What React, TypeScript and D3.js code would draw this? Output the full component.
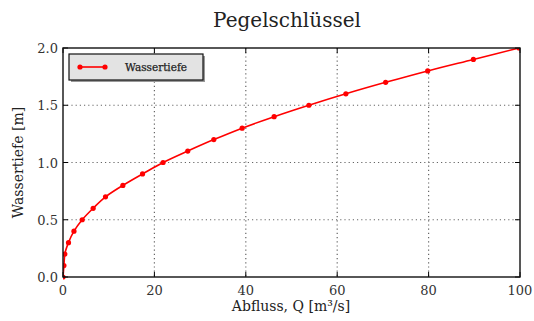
import * as d3 from "d3"
import React from "react"

// Pegelschlüssel: Abfluss Q [m³/s] gegen Wassertiefe [m]
const abfluss = [0, 0.2, 0.4, 1.2, 2.4, 4.2, 6.6, 9.3, 13.1, 17.4, 21.9, 27.3, 33.0, 39.2, 46.2, 53.8, 61.9, 70.6, 79.8, 89.8, 99.8]
const wassertiefe = [0, 0.1, 0.2, 0.3, 0.4, 0.5, 0.6, 0.7, 0.8, 0.9, 1.0, 1.1, 1.2, 1.3, 1.4, 1.5, 1.6, 1.7, 1.8, 1.9, 2.0]
const xTickValues = [0, 20, 40, 60, 80, 100]
const yTickValues = [0, 0.5, 1.0, 1.5, 2.0]
const title = "Pegelschlüssel"
const xLabel = "Abfluss, Q [m³/s]"
const yLabel = "Wassertiefe [m]"
const legendLabel = "Wassertiefe"

export default function App() {
  const W = 534
  const H = 321
  const left = 63
  const right = 520
  const top = 48
  const bottom = 277
  const font = "'DejaVu Serif', serif"

  const xScale = d3.scaleLinear().domain([0, 100]).range([left, right])
  const yScale = d3.scaleLinear().domain([0, 2]).range([bottom, top])
  const pts: [number, number][] = abfluss.map((q, i) => [q, wassertiefe[i]])
  const line = d3.line<[number, number]>()
    .curve(d3.curveMonotoneY)
    .x(d => xScale(d[0]))
    .y(d => yScale(d[1]))(pts)

  return (
    <svg width={W} height={H} style={{ position: "absolute", left: 0, top: 0 }}>
      <rect width={W} height={H} fill="#fff" />
      <text x={287} y={27} textAnchor="middle" fontFamily={font} fontSize={20} fill="#222">{title}</text>

      {/* grid */}
      {xTickValues.slice(1, -1).map(t => (
        <line key={"gx" + t} x1={xScale(t)} x2={xScale(t)} y1={top} y2={bottom} stroke="#666" strokeWidth={1.2} strokeDasharray="1.2,3" />
      ))}
      {yTickValues.slice(1, -1).map(t => (
        <line key={"gy" + t} x1={left} x2={right} y1={yScale(t)} y2={yScale(t)} stroke="#666" strokeWidth={1.2} strokeDasharray="1.2,3" />
      ))}

      {/* data */}
      <clipPath id="plot"><rect x={left} y={top} width={right - left} height={bottom - top + 3} /></clipPath>
      <g clipPath="url(#plot)">
        <path d={line || ""} fill="none" stroke="#ff0000" strokeWidth={1.6} />
        {pts.map((p, i) => (
          <circle key={i} cx={xScale(p[0])} cy={yScale(p[1])} r={2.6} fill="#ff0000" />
        ))}
      </g>

      {/* ticks */}
      {xTickValues.map(t => (
        <g key={"tx" + t}>
          <line x1={xScale(t)} x2={xScale(t)} y1={bottom} y2={bottom - 5} stroke="#000" />
          <line x1={xScale(t)} x2={xScale(t)} y1={top} y2={top + 5} stroke="#000" />
          <text x={xScale(t)} y={bottom + 18} textAnchor="middle" fontFamily={font} fontSize={13} fill="#333">{t}</text>
        </g>
      ))}
      {yTickValues.map(t => (
        <g key={"ty" + t}>
          <line x1={left} x2={left + 5} y1={yScale(t)} y2={yScale(t)} stroke="#000" />
          <line x1={right} x2={right - 5} y1={yScale(t)} y2={yScale(t)} stroke="#000" />
          <text x={left - 5} y={yScale(t) + 5} textAnchor="end" fontFamily={font} fontSize={13} fill="#333">{t.toFixed(1)}</text>
        </g>
      ))}

      <rect x={left} y={top} width={right - left} height={bottom - top} fill="none" stroke="#111" strokeWidth={1.4} />

      {/* legend */}
      <rect x={71} y={56} width={134} height={26} fill="#999" />
      <rect x={69} y={54} width={134} height={26} fill="#e3e3e3" stroke="#111" strokeWidth={1.2} />
      <line x1={80} x2={105} y1={67} y2={67} stroke="#ff0000" strokeWidth={1.6} />
      <circle cx={80} cy={67} r={2.6} fill="#ff0000" />
      <circle cx={105} cy={67} r={2.6} fill="#ff0000" />
      <text x={125} y={71} fontFamily={font} fontSize={10.5} fill="#222" stroke="#222" strokeWidth={0.25}>{legendLabel}</text>

      <text x={291} y={311} textAnchor="middle" fontFamily={font} fontSize={14} fill="#222">{xLabel}</text>
      <text transform={`translate(23,${(top + bottom) / 2}) rotate(-90)`} textAnchor="middle" fontFamily={font} fontSize={14} fill="#222">{yLabel}</text>
    </svg>
  )
}
